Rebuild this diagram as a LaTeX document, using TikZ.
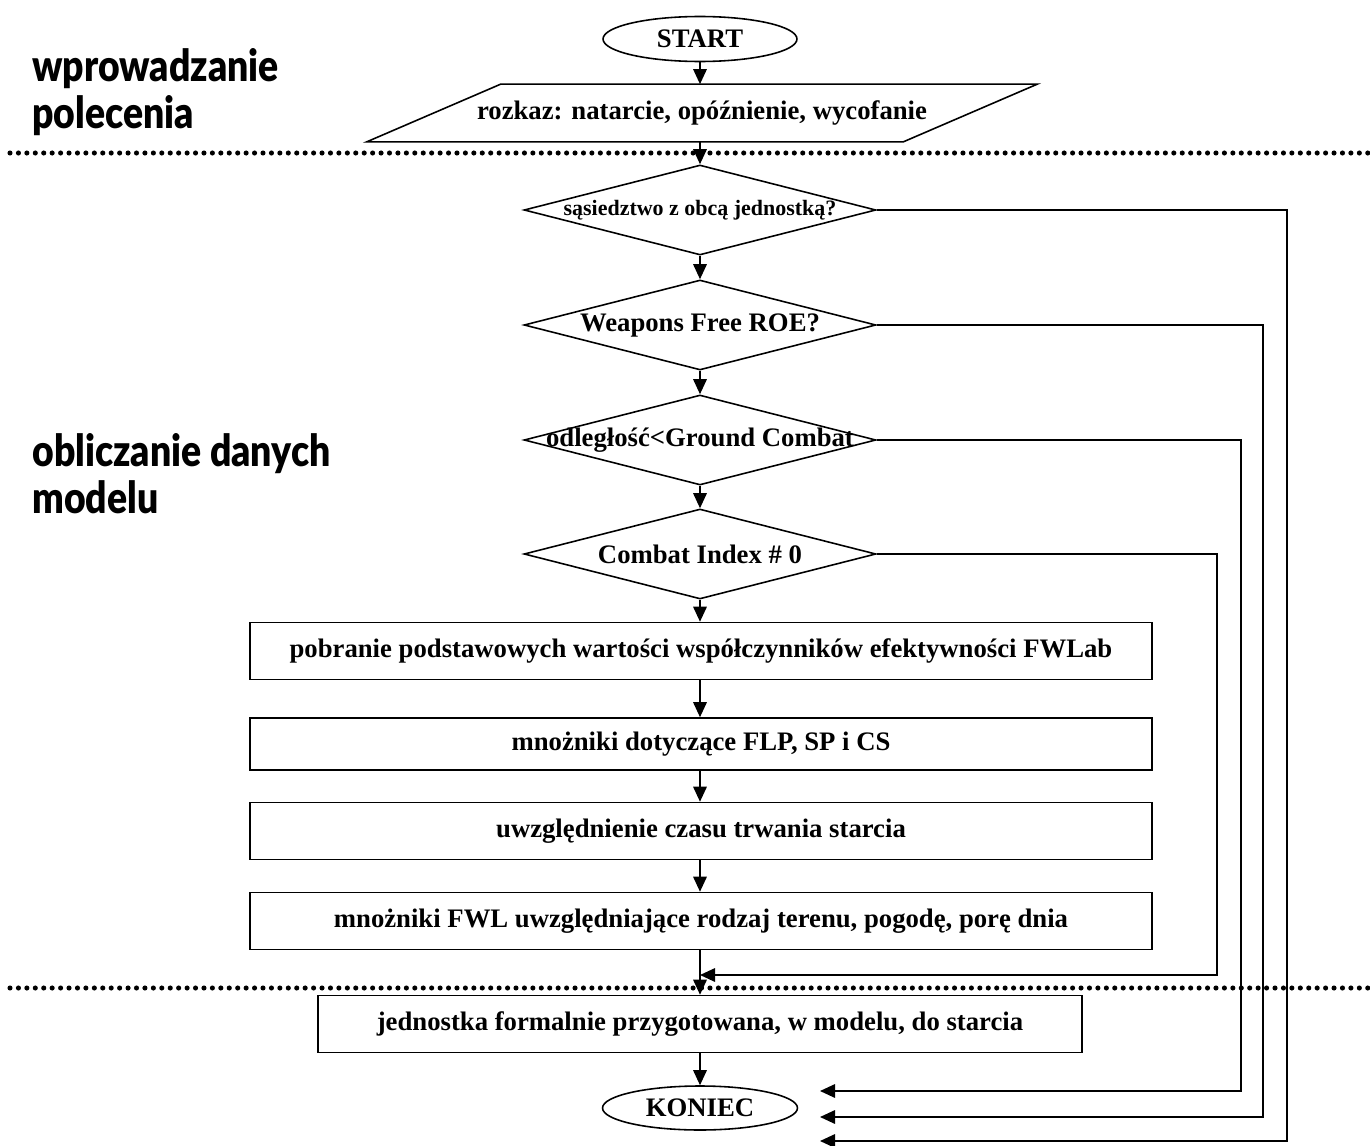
\documentclass[tikz,border=0pt]{standalone}
\usepackage{fontspec}
\setmainfont{Liberation Serif}
\newfontfamily\sekcjafont{Lato Black}[FakeStretch=0.85]
\usetikzlibrary{shapes.geometric,arrows.meta}

\begin{document}
\begin{tikzpicture}[
    x=0.02cm, y=-0.02cm,
    linia/.style={line width=0.9pt},
    strzalka/.style={linia, -{Triangle[length=0.3cm,width=0.27cm]}},
    kropki/.style={line width=2.9pt, dash pattern=on 0pt off 4.8pt, line cap=round},
    terminator/.style={ellipse, draw, linia, minimum width=3.88cm, minimum height=0.9cm, inner sep=0pt},
    wejscie/.style={rectangle, minimum width=10.72cm, minimum height=1.14cm, inner sep=0pt},
    decyzja/.style={diamond, draw, linia, minimum width=7.04cm, minimum height=1.8cm, inner sep=0pt, label={[pytanie]center:#1}},
    pytanie/.style={inner sep=0pt},
    blok/.style={rectangle, draw, linia, minimum width=18.04cm, minimum height=1.14cm, inner sep=0pt},
    sekcja/.style={anchor=north west, align=left, inner sep=0pt, font=\sekcjafont\fontsize{25}{27}\selectfont},
    font=\bfseries\fontsize{15.2}{18}\selectfont
]
    \useasboundingbox (0,0) rectangle (1370,1146);

    % etapy
    \node[sekcja] (etap1) at (32,48) {wprowadzanie\\polecenia};
    \node[sekcja] (etap2) at (32,433) {obliczanie danych\\modelu};

    \draw[kropki] (10,153) -- (1370,153);
    \draw[kropki] (10,988) -- (1370,988);

    % wprowadzanie polecenia
    \node[terminator] (start) at (700,39) {START};
    \node[wejscie] (rozkaz) at (702,113) {rozkaz: natarcie, opóźnienie, wycofanie};
    \draw[linia] ([xshift=-1.34cm]rozkaz.south west) -- ([xshift=1.34cm]rozkaz.north west)
        -- ([xshift=1.34cm]rozkaz.north east) -- ([xshift=-1.34cm]rozkaz.south east) -- cycle;

    % warunki
    \node[decyzja={\fontsize{12.5}{15}\selectfont sąsiedztwo z obcą jednostką?}] (d1) at (700,210) {};
    \node[decyzja={Weapons Free ROE?}] (d2) at (700,325) {};
    \node[decyzja={odległość<Ground Combat}] (d3) at (700,440) {};
    \node[decyzja={Combat Index \# 0}] (d4) at (700,554) {};

    % obliczenia
    \node[blok] (b1) at (701,651) {pobranie podstawowych wartości współczynników efektywności FWLab};
    \node[blok, minimum height=1.04cm] (b2) at (701,744) {mnożniki dotyczące FLP, SP i CS};
    \node[blok] (b3) at (701,831) {uwzględnienie czasu trwania starcia};
    \node[blok] (b4) at (701,921) {mnożniki FWL uwzględniające rodzaj terenu, pogodę, porę dnia};

    \node[blok, minimum width=15.28cm] (b5) at (700,1024) {jednostka formalnie przygotowana, w modelu, do starcia};
    \node[terminator, minimum width=3.9cm, minimum height=0.88cm] (koniec) at (700,1108) {KONIEC};

    % przejscia
    \draw[strzalka] (start) -- (start |- rozkaz.north);
    \draw[strzalka] (rozkaz.south -| d1) -- (d1);
    \draw[strzalka] (d1) -- (d2);
    \draw[strzalka] (d2) -- (d3);
    \draw[strzalka] (d3) -- (d4);
    \draw[strzalka] (d4) -- (d4 |- b1.north);
    \draw[strzalka] (b1.south -| d4) -- (d4 |- b2.north);
    \draw[strzalka] (b2.south -| d4) -- (d4 |- b3.north);
    \draw[strzalka] (b3.south -| d4) -- (d4 |- b4.north);
    \draw[strzalka] (b4.south -| d4) -- (d4 |- b5.north);
    \draw[strzalka] (b5) -- (koniec);

    % powroty
    \coordinate (z4) at (700,975);
    \coordinate (k3) at (820,1091);
    \coordinate (k2) at (820,1117);
    \coordinate (k1) at (820,1141);
    \draw[strzalka] (d1.east) -| (1287,1141) -- (k1);
    \draw[strzalka] (d2.east) -| (1263,1117) -- (k2);
    \draw[strzalka] (d3.east) -| (1241,1091) -- (k3);
    \draw[strzalka] (d4.east) -| (1217,975) -- (z4);
\end{tikzpicture}
\end{document}
